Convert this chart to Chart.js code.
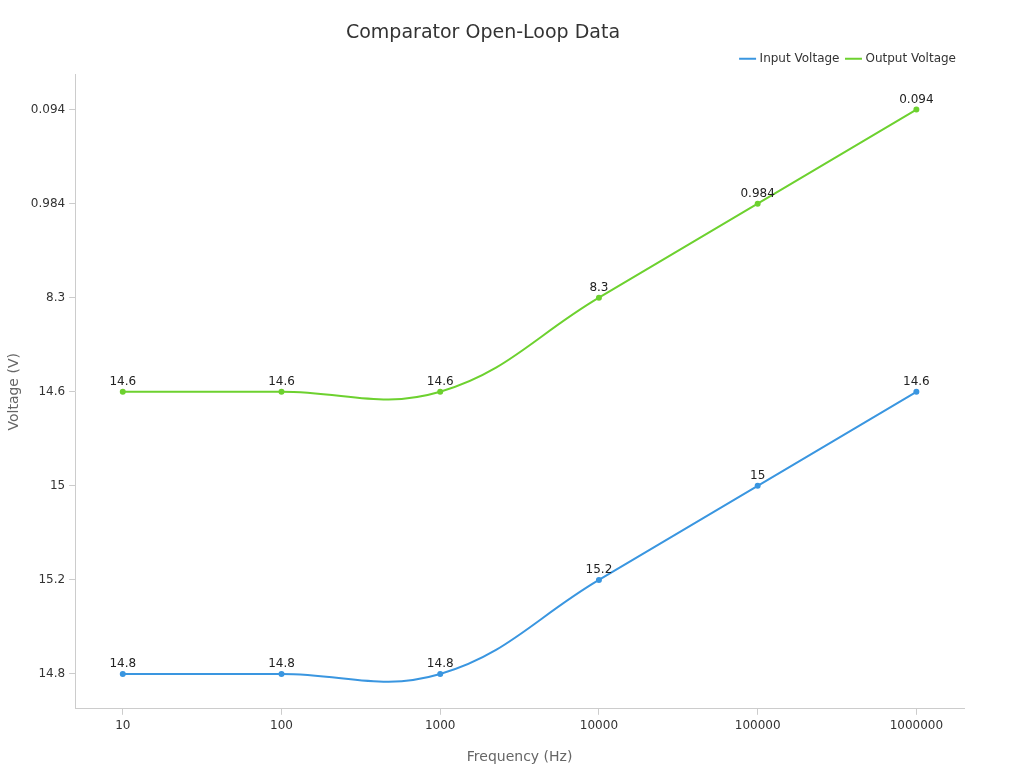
<!DOCTYPE html>
<html><head><meta charset="utf-8">
<script src="https://cdn.jsdelivr.net/npm/chart.js@4/dist/chart.umd.min.js"></script>
<style>html,body{margin:0;background:#fff}#w{width:1024px;height:768px}</style>
</head><body><div id="w"><canvas id="c"></canvas></div>
<script>
const frequencies = ['10','100','1000','10000','100000','1000000'];
const yLabels = ['0.094','0.984','8.3','14.6','15','15.2','14.8']; // top to bottom
const inputVoltage = ['14.8','14.8','14.8','15.2','15','14.6'];
const outputVoltage = ['14.6','14.6','14.6','8.3','0.984','0.094'];

const yPos = v => yLabels.length - 1 - yLabels.indexOf(v);
const toPts = arr => arr.map((v,i)=>({x:i,y:yPos(v),label:v}));

const labelPlugin = {
  id:'dl',
  afterDatasetsDraw(chart){
    const ctx=chart.ctx;
    ctx.save();
    ctx.font='12px "DejaVu Sans"';ctx.fillStyle='#222';ctx.textAlign='center';ctx.textBaseline='bottom';
    chart.data.datasets.forEach((ds,di)=>{
      chart.getDatasetMeta(di).data.forEach((el,i)=>{
        ctx.fillText(ds.data[i].label, el.x, el.y-4);
      });
    });
    ctx.restore();
  }
};

new Chart(document.getElementById('c'),{
  type:'line',
  data:{datasets:[
    {label:'Input Voltage',data:toPts(inputVoltage),borderColor:'#3a96e0',backgroundColor:'#3a96e0',borderWidth:2,pointRadius:2,tension:0.4},
    {label:'Output Voltage',data:toPts(outputVoltage),borderColor:'#6dd12f',backgroundColor:'#6dd12f',borderWidth:2,pointRadius:2,tension:0.4}
  ]},
  options:{
    responsive:true,maintainAspectRatio:false,animation:false,
    layout:{padding:{left:2,right:60,top:10,bottom:2}},
    plugins:{
      title:{display:true,text:'Comparator Open-Loop Data',color:'#333',font:{family:'DejaVu Sans',size:19,weight:'normal'},padding:{top:12,bottom:0}},
      legend:{align:'end',labels:{usePointStyle:true,pointStyle:'line',boxWidth:30,color:'#333',font:{family:'DejaVu Sans',size:12},padding:8}},
      tooltip:{enabled:false}
    },
    scales:{
      x:{type:'linear',min:-0.3,max:5.3,
        afterBuildTicks:s=>{s.ticks=frequencies.map((f,i)=>({value:i}));},
        ticks:{callback:v=>frequencies[v],color:'#333',font:{family:'DejaVu Sans',size:12},padding:4},
        grid:{display:true,drawOnChartArea:false,drawTicks:true,tickLength:6,color:'#ccc'},border:{color:'#ccc'},
        title:{display:true,text:'Frequency (Hz)',color:'#666',font:{family:'DejaVu Sans',size:14},padding:{top:12,bottom:0}}},
      y:{type:'linear',min:-0.37,max:6.37,
        afterBuildTicks:s=>{s.ticks=yLabels.map((l,i)=>({value:i}));},
        ticks:{callback:v=>yLabels[yLabels.length-1-v],color:'#333',font:{family:'DejaVu Sans',size:12},padding:4},
        grid:{display:true,drawOnChartArea:false,tickLength:6,color:'#ccc'},border:{color:'#ccc'},
        title:{display:true,text:'Voltage (V)',color:'#666',font:{family:'DejaVu Sans',size:14}}}
    }
  },
  plugins:[labelPlugin]
});
</script></body></html>
